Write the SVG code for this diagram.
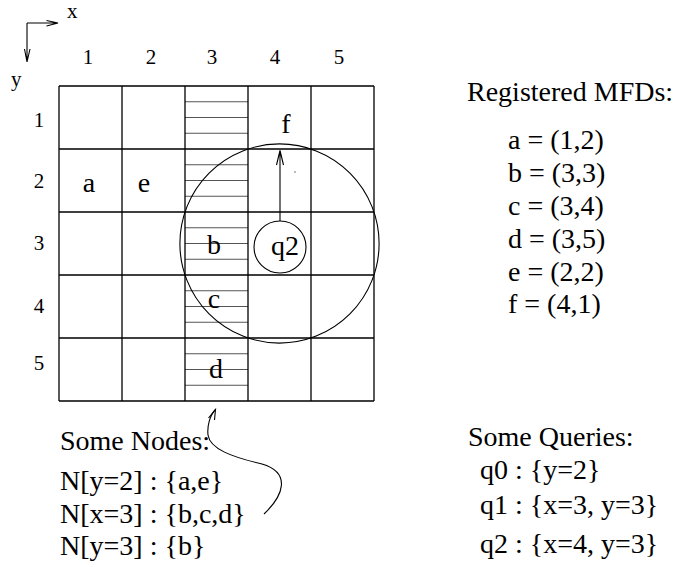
<svg xmlns="http://www.w3.org/2000/svg" width="693" height="567" viewBox="0 0 693 567" font-family="'Liberation Serif', serif">
<style>
text{font-family:'Liberation Serif',serif;fill:#000}
.t{font-size:28px}
.n{font-size:21px}
.g{stroke:#000;stroke-width:1.3;fill:none}
.h{stroke:#555;stroke-width:1;fill:none}
.l{stroke:#000;stroke-width:1.1;fill:none}
</style>
<rect width="693" height="567" fill="#fff"/>
<g id="axes">
<path class="l" d="M27,23 H58 M46.5,20.5 L58,23 L46.5,26 M27,23 V62 M24.5,49 L27,62 L30,49"/>
<text class="n" x="67" y="18">x</text>
<text class="n" x="11" y="86">y</text>
</g>
<g id="labels" class="n" text-anchor="middle">
<text x="88" y="64">1</text>
<text x="151" y="64">2</text>
<text x="212" y="64">3</text>
<text x="275" y="64">4</text>
<text x="339" y="64">5</text>
<text x="39" y="127">1</text>
<text x="39" y="188">2</text>
<text x="39" y="250">3</text>
<text x="39" y="313">4</text>
<text x="39" y="370">5</text>
</g>
<g id="hatch" class="h">
<path d="M185,101.75H248M185,117.5H248M185,133.25H248M185,164.75H248M185,180.5H248M185,196.25H248M185,227.75H248M185,243.5H248M185,259.25H248M185,290.75H248M185,306.5H248M185,322.25H248M185,353.75H248M185,369.5H248M185,385.25H248"/>
</g>
<g id="grid" class="g">
<path d="M59,86V401M122,86V401M185,86V401M248,86V401M311,86V401M374,86V401M59,86H374M59,149H374M59,212H374M59,275H374M59,338H374M59,401H374"/>
</g>
<g id="cells" class="t" text-anchor="middle">
<text x="89" y="192">a</text>
<text x="144" y="192">e</text>
<text x="286" y="133">f</text>
<text x="214" y="254">b</text>
<text x="214" y="308">c</text>
<text x="216" y="378">d</text>
</g>
<g id="range">
<circle class="l" cx="279.5" cy="243.5" r="99.6"/>
</g>
<g id="q2">
<circle class="l" cx="280" cy="247" r="26"/>
<text class="t" x="285" y="255" text-anchor="middle">q2</text>
</g>
<g id="connectors">
<path class="l" d="M264,514 C283,496 292,473 262,464 C232,457 210,449 208,435 C207,426 210,415 215.5,409.5"/>
<path class="l" d="M208.5,418 L215.5,409.5 L214.5,420"/>
<path class="l" d="M280,221V150.5 M276.5,165 L280,150.5 L283.5,165"/>
</g>
<circle cx="295" cy="172" r="0.7" fill="#444"/>
<g id="mfds" class="t">
<text x="467" y="101">Registered MFDs:</text>
<text x="508" y="149">a = (1,2)</text>
<text x="508" y="182">b = (3,3)</text>
<text x="508" y="215">c = (3,4)</text>
<text x="508" y="248">d = (3,5)</text>
<text x="508" y="281">e = (2,2)</text>
<text x="508" y="313">f = (4,1)</text>
</g>
<g id="nodes" class="t">
<text x="60" y="450">Some Nodes:</text>
<text x="60" y="490">N[y=2] : {a,e}</text>
<text x="60" y="523">N[x=3] : {b,c,d}</text>
<text x="60" y="555">N[y=3] : {b}</text>
</g>
<g id="queries" class="t">
<text x="468" y="446">Some Queries:</text>
<text x="480" y="479">q0 : {y=2}</text>
<text x="480" y="514">q1 : {x=3, y=3}</text>
<text x="480" y="553">q2 : {x=4, y=3}</text>
</g>
</svg>
